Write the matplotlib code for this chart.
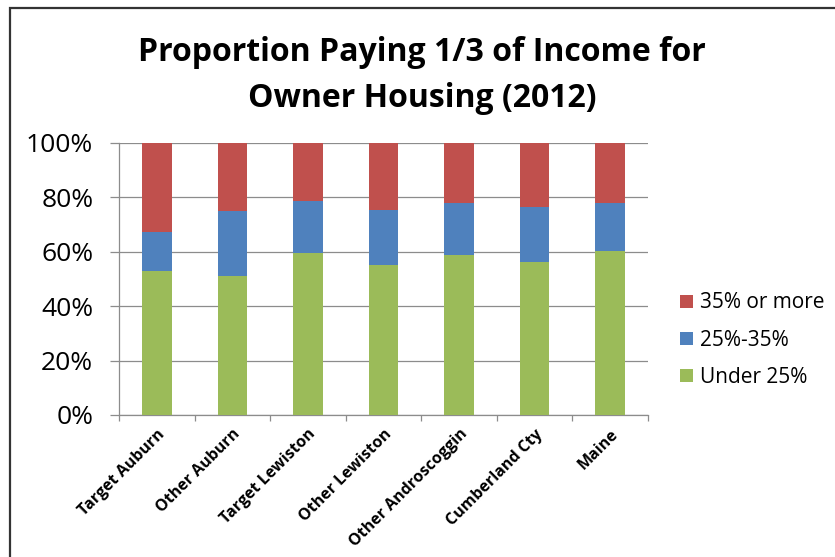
import matplotlib
matplotlib.use("Agg")
import matplotlib.pyplot as plt
from matplotlib.patches import Rectangle
import numpy as np

categories = ["Target Auburn", "Other Auburn", "Target Lewiston", "Other Lewiston",
              "Other Androscoggin", "Cumberland Cty", "Maine"]
under_25 = [53.0, 51.2, 59.7, 55.0, 58.9, 56.4, 60.2]
pct_25_35 = [14.3, 23.7, 18.8, 20.5, 19.1, 20.0, 17.8]
over_35 = [32.7, 25.1, 21.5, 24.5, 22.0, 23.6, 22.0]
y_ticks = [0, 20, 40, 60, 80, 100]
y_tick_labels = ["0%", "20%", "40%", "60%", "80%", "100%"]

green = "#9BBB59"
blue = "#4F81BD"
red = "#C0504D"
grid_color = "#8c8c8c"

plt.rcParams["font.family"] = ["Open Sans", "DejaVu Sans"]

fig = plt.figure(figsize=(8.35, 5.57), dpi=100)
fig.patch.set_facecolor("white")

# frame around the chart area
fig.patches.append(Rectangle((10 / 835, -0.05), 1.2, 1 - 8 / 557 + 0.05,
                             transform=fig.transFigure, fill=False,
                             edgecolor="#333333", linewidth=1.6, zorder=0))

ax = fig.add_axes([119 / 835, 1 - 415 / 557, 529 / 835, 272 / 557])
x = np.arange(len(categories))
w = 0.39
bottom2 = np.array(under_25)
bottom3 = bottom2 + np.array(pct_25_35)
b1 = ax.bar(x, under_25, w, color=green, label="Under 25%", zorder=3)
b2 = ax.bar(x, pct_25_35, w, bottom=bottom2, color=blue, label="25%-35%", zorder=3)
b3 = ax.bar(x, over_35, w, bottom=bottom3, color=red, label="35% or more", zorder=3)

ax.set_xlim(-0.5, len(categories) - 0.5)
ax.set_ylim(0, 100)
ax.set_yticks(y_ticks)
ax.set_yticklabels(y_tick_labels, fontsize=19)
ax.yaxis.grid(True, color=grid_color, linewidth=0.9, zorder=0)
ax.tick_params(axis="y", direction="out", length=6.5, width=0.9, color=grid_color, pad=12)

ax.set_xticks(x)
ax.set_xticklabels(categories, rotation=45, ha="right", va="top",
                   rotation_mode="anchor", fontsize=11.5, fontweight="bold")
ax.tick_params(axis="x", length=0, pad=8)
ax.set_xticks(np.arange(len(categories) + 1) - 0.5, minor=True)
ax.tick_params(axis="x", which="minor", direction="out", length=4.5, width=0.9, color=grid_color)

for side in ["top", "right"]:
    ax.spines[side].set_visible(False)
ax.spines["left"].set_color(grid_color)
ax.spines["bottom"].set_color(grid_color)
ax.spines["left"].set_linewidth(0.9)
ax.spines["bottom"].set_linewidth(0.9)

fig.text(422 / 835, 1 - 61 / 557, "Proportion Paying 1/3 of Income for",
         ha="center", va="baseline", fontsize=23, fontweight="bold")
fig.text(422 / 835, 1 - 107 / 557, "Owner Housing (2012)",
         ha="center", va="baseline", fontsize=23, fontweight="bold")

leg = fig.legend(handles=[b3, b2, b1], labels=["35% or more", "25%-35%", "Under 25%"],
                 loc="center left", bbox_to_anchor=(680 / 835, 1 - 340 / 557),
                 frameon=False, fontsize=15, handlelength=0.6, handleheight=0.6,
                 handletextpad=0.38, labelspacing=0.77, borderpad=0, borderaxespad=0)

fig.savefig("out.png", dpi=100, facecolor="white")
